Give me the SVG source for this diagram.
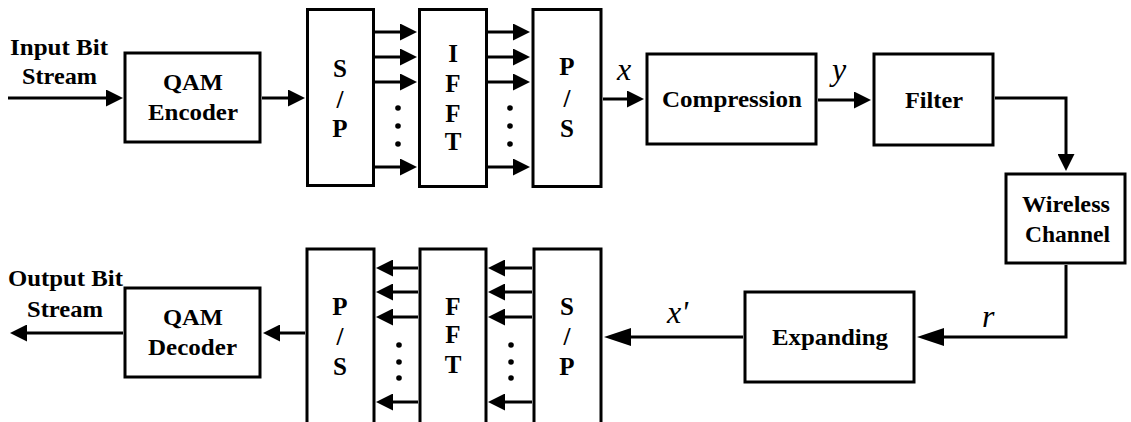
<svg xmlns="http://www.w3.org/2000/svg" width="1131" height="422" viewBox="0 0 1131 422">
<style>
.box{fill:#fff;stroke:#000;stroke-width:3}
.ln{fill:none;stroke:#000;stroke-width:3}
.a{marker-end:url(#ah)}
.aL{marker-end:url(#ahL)}
</style>
<defs>
<marker id="ah" markerUnits="userSpaceOnUse" markerWidth="17" markerHeight="17" viewBox="0 0 17 17" refX="7" refY="8.5" orient="auto"><path d="M0,0 L17,8.5 L0,17 z" fill="#000"/></marker>
<marker id="ahL" markerUnits="userSpaceOnUse" markerWidth="27" markerHeight="18" viewBox="0 0 27 18" refX="17" refY="9" orient="auto"><path d="M0,0 L27,9 L0,18 z" fill="#000"/></marker>
</defs>
<rect width="1131" height="422" fill="#fff"/>

<g id="connectors">
<path class="ln a" d="M8,98 H113"/>
<path class="ln a" d="M262,98 H295"/>
<path class="ln a" d="M375,32 H407"/>
<path class="ln a" d="M375,57 H407"/>
<path class="ln a" d="M375,82 H407"/>
<path class="ln a" d="M375,167 H407"/>
<path class="ln a" d="M488,32 H520"/>
<path class="ln a" d="M488,57 H520"/>
<path class="ln a" d="M488,82 H520"/>
<path class="ln a" d="M488,167 H520"/>
<path class="ln a" d="M603,99 H634"/>
<path class="ln a" d="M818,100 H861"/>
<path class="ln a" d="M995,98 H1066 V161"/>
<path class="ln aL" d="M1066,265 V337 H927"/>
<path class="ln aL" d="M743,337 H614"/>
<path class="ln a" d="M532,268 H498"/>
<path class="ln a" d="M532,292 H498"/>
<path class="ln a" d="M532,317 H498"/>
<path class="ln a" d="M532,402 H498"/>
<path class="ln a" d="M418,268 H386"/>
<path class="ln a" d="M418,292 H386"/>
<path class="ln a" d="M418,317 H386"/>
<path class="ln a" d="M418,402 H386"/>
<path class="ln a" d="M305,333 H273"/>
<path class="ln a" d="M123,333 H20"/>
<g fill="#000">
<circle cx="398" cy="108" r="2.8"/><circle cx="398" cy="126" r="2.8"/><circle cx="398" cy="144" r="2.8"/>
<circle cx="510" cy="108" r="2.8"/><circle cx="510" cy="126" r="2.8"/><circle cx="510" cy="144" r="2.8"/>
<circle cx="399" cy="345" r="2.8"/><circle cx="399" cy="362" r="2.8"/><circle cx="399" cy="378" r="2.8"/>
<circle cx="511" cy="345" r="2.8"/><circle cx="511" cy="362" r="2.8"/><circle cx="511" cy="378" r="2.8"/>
</g>
<g font-family="Liberation Serif, Times New Roman, serif" font-style="italic" font-size="32" fill="#000">
<text x="617" y="80">x</text>
<text x="832" y="80">y</text>
<text x="982" y="327">r</text>
<text x="667" y="323">x'</text>
</g>
</g>

<g font-family="Liberation Serif, Times New Roman, serif" font-weight="bold" font-size="24" fill="#000">
<g id="input-label">
<text x="10" y="55" textLength="98" lengthAdjust="spacingAndGlyphs">Input Bit</text>
<text x="22" y="84" textLength="75" lengthAdjust="spacingAndGlyphs">Stream</text>
</g>
<g id="qam-encoder">
<rect class="box" x="125" y="53" width="135" height="89"/>
<text x="163" y="90" textLength="60" lengthAdjust="spacingAndGlyphs">QAM</text>
<text x="148" y="120" textLength="90" lengthAdjust="spacingAndGlyphs">Encoder</text>
</g>
<g id="compression">
<rect class="box" x="647" y="54" width="169" height="90"/>
<text x="662" y="107" textLength="140" lengthAdjust="spacingAndGlyphs">Compression</text>
</g>
<g id="filter">
<rect class="box" x="874" y="54" width="119" height="91"/>
<text x="905" y="108" textLength="58" lengthAdjust="spacingAndGlyphs">Filter</text>
</g>
<g id="wireless-channel">
<rect class="box" x="1006" y="174" width="119" height="89"/>
<text x="1022" y="212" textLength="88" lengthAdjust="spacingAndGlyphs">Wireless</text>
<text x="1025" y="242" textLength="85" lengthAdjust="spacingAndGlyphs">Channel</text>
</g>
<g id="expanding">
<rect class="box" x="745" y="292" width="169" height="90"/>
<text x="772" y="345" textLength="116" lengthAdjust="spacingAndGlyphs">Expanding</text>
</g>
<g id="qam-decoder">
<rect class="box" x="125" y="288" width="135" height="89"/>
<text x="163" y="325" textLength="60" lengthAdjust="spacingAndGlyphs">QAM</text>
<text x="148" y="355" textLength="89" lengthAdjust="spacingAndGlyphs">Decoder</text>
</g>
<g id="output-label">
<text x="8" y="286" textLength="115" lengthAdjust="spacingAndGlyphs">Output Bit</text>
<text x="27" y="317" textLength="76" lengthAdjust="spacingAndGlyphs">Stream</text>
</g>
<g text-anchor="middle" font-size="25">
<g id="sp-top">
<rect class="box" x="307.5" y="9.5" width="66" height="176"/>
<text x="340" y="77">S</text>
<text x="340" y="108">/</text>
<text x="340" y="137">P</text>
</g>
<g id="ifft">
<rect class="box" x="419.5" y="9.5" width="67" height="177"/>
<text x="453" y="62">I</text>
<text x="453" y="92">F</text>
<text x="453" y="122">F</text>
<text x="453" y="150">T</text>
</g>
<g id="ps-top">
<rect class="box" x="533" y="9.5" width="68" height="177"/>
<text x="567" y="75">P</text>
<text x="567" y="107">/</text>
<text x="567" y="137">S</text>
</g>
<g id="sp-bottom">
<rect class="box" x="534" y="249" width="67" height="190"/>
<text x="567" y="315">S</text>
<text x="567" y="345">/</text>
<text x="567" y="375">P</text>
</g>
<g id="fft">
<rect class="box" x="420" y="249" width="66" height="190"/>
<text x="453" y="315">F</text>
<text x="453" y="343">F</text>
<text x="453" y="373">T</text>
</g>
<g id="ps-bottom">
<rect class="box" x="307" y="249" width="67" height="190"/>
<text x="340" y="315">P</text>
<text x="340" y="345">/</text>
<text x="340" y="375">S</text>
</g>
</g>
</g>
</svg>
